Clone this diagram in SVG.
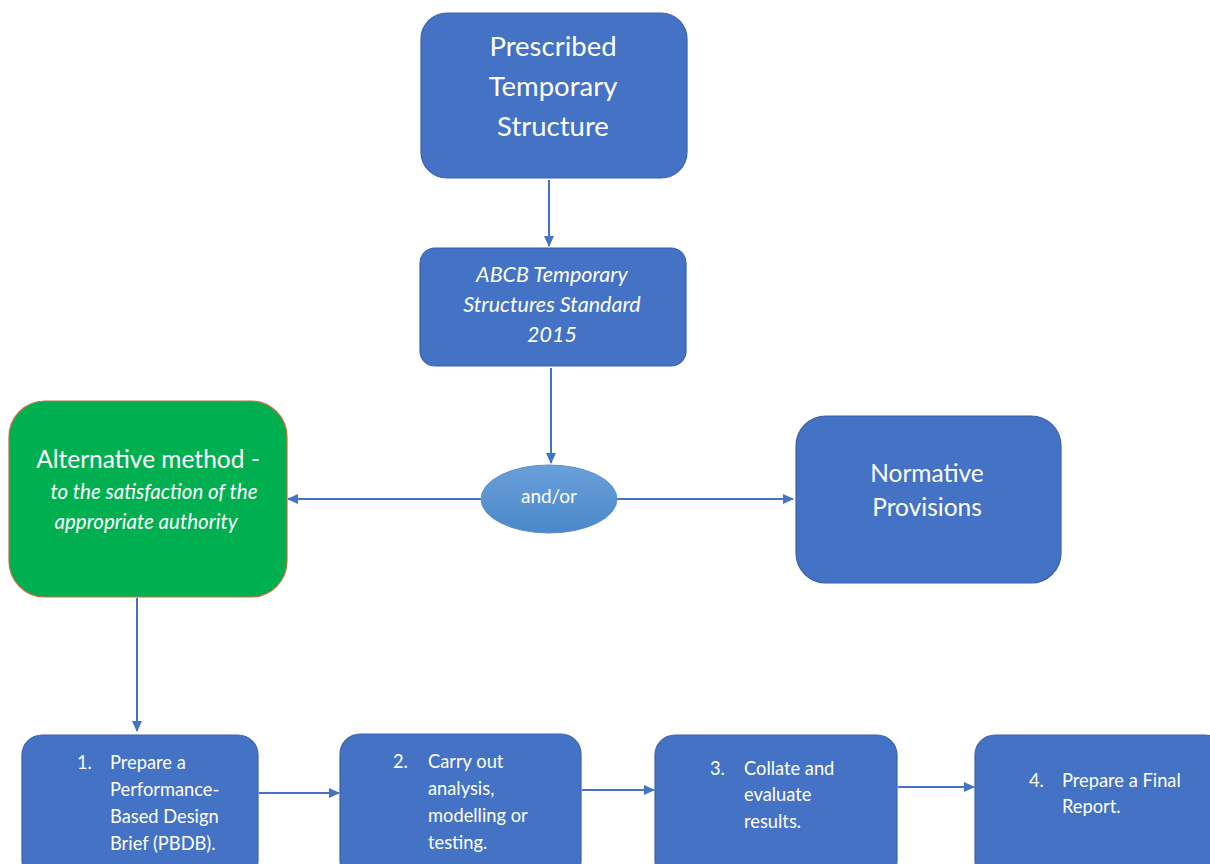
<svg xmlns="http://www.w3.org/2000/svg" width="1210" height="864" viewBox="0 0 1210 864">
<style>
.box{fill:#4472c4;stroke:#3a62aa;stroke-width:1.2}
.t{fill:#ffffff;font-family:Lato,"Open Sans","Liberation Sans",sans-serif}
.s{font-size:18.3px}
.c{stroke:#4472c4;stroke-width:2;fill:none;marker-end:url(#ah)}
</style>
<defs>
<marker id="ah" markerWidth="12" markerHeight="12" refX="10" refY="6" orient="auto" markerUnits="userSpaceOnUse">
<path d="M0,1 L11,6 L0,11 Z" fill="#4472c4"/>
</marker>
<linearGradient id="eg" x1="0" y1="0" x2="0" y2="1">
<stop offset="0" stop-color="#6aa0da"/>
<stop offset="1" stop-color="#4a88c9"/>
</linearGradient>
</defs>
<rect width="1210" height="864" fill="#ffffff"/>
<g id="connectors">
<line class="c" x1="549" y1="180" x2="549" y2="246"/>
<line class="c" x1="551" y1="368" x2="551" y2="463"/>
<line class="c" x1="481" y1="499" x2="288" y2="499"/>
<line class="c" x1="617" y1="499" x2="793" y2="499"/>
<line class="c" x1="137" y1="598" x2="137" y2="731"/>
<line class="c" x1="259" y1="793" x2="339" y2="793"/>
<line class="c" x1="582" y1="790" x2="654" y2="790"/>
<line class="c" x1="898" y1="787" x2="974" y2="787"/>
</g>
<g id="prescribed">
<rect class="box" x="421" y="13" width="266" height="165" rx="26"/>
<text class="t" font-size="27.5" text-anchor="middle" x="553" y="56">Prescribed</text>
<text class="t" font-size="27.5" text-anchor="middle" x="553" y="96">Temporary</text>
<text class="t" font-size="27.5" text-anchor="middle" x="553" y="136">Structure</text>
</g>
<g id="abcb">
<rect class="box" x="420" y="248" width="266" height="118" rx="15"/>
<text class="t" font-size="21.5" font-style="italic" text-anchor="middle" x="552" y="282">ABCB Temporary</text>
<text class="t" font-size="21.5" font-style="italic" text-anchor="middle" x="552" y="312">Structures Standard</text>
<text class="t" font-size="21.5" font-style="italic" text-anchor="middle" x="552" y="342">2015</text>
</g>
<g id="andor">
<ellipse cx="549" cy="499" rx="68" ry="34" fill="url(#eg)" stroke="#5b8fcf" stroke-width="1"/>
<text class="t" font-size="19" text-anchor="middle" x="549" y="503">and/or</text>
</g>
<g id="alternative">
<rect x="9" y="401" width="278" height="196" rx="36" fill="#00b050" stroke="#c0703a" stroke-width="1.2"/>
<text class="t" font-size="24.5" text-anchor="middle" x="148" y="468">Alternative method -</text>
<text class="t" font-size="20.5" font-style="italic" text-anchor="middle" x="154" y="499">to the satisfaction of the</text>
<text class="t" font-size="20.5" font-style="italic" text-anchor="middle" x="146" y="529">appropriate authority</text>
</g>
<g id="normative">
<rect class="box" x="796" y="416" width="265" height="167" rx="30"/>
<text class="t" font-size="24.5" text-anchor="middle" x="927" y="482">Normative</text>
<text class="t" font-size="24.5" text-anchor="middle" x="927" y="516">Provisions</text>
</g>
<g id="step1">
<rect class="box" x="22" y="735" width="236" height="145" rx="20"/>
<text class="t s" x="77" y="769">1.</text>
<text class="t s" x="110" y="769">Prepare a</text>
<text class="t s" x="110" y="796">Performance-</text>
<text class="t s" x="110" y="823">Based Design</text>
<text class="t s" x="110" y="850">Brief (PBDB).</text>
</g>
<g id="step2">
<rect class="box" x="340" y="734" width="241" height="146" rx="20"/>
<text class="t s" x="393" y="768">2.</text>
<text class="t s" x="428" y="768">Carry out</text>
<text class="t s" x="428" y="795">analysis,</text>
<text class="t s" x="428" y="822">modelling or</text>
<text class="t s" x="428" y="849">testing.</text>
</g>
<g id="step3">
<rect class="box" x="655" y="735" width="242" height="145" rx="20"/>
<text class="t s" x="710" y="775">3.</text>
<text class="t s" x="744" y="775">Collate and</text>
<text class="t s" x="744" y="801">evaluate</text>
<text class="t s" x="744" y="828">results.</text>
</g>
<g id="step4">
<rect class="box" x="975" y="735" width="250" height="145" rx="20"/>
<text class="t s" x="1029" y="787">4.</text>
<text class="t s" x="1062" y="787">Prepare a Final</text>
<text class="t s" x="1062" y="813">Report.</text>
</g>
</svg>
